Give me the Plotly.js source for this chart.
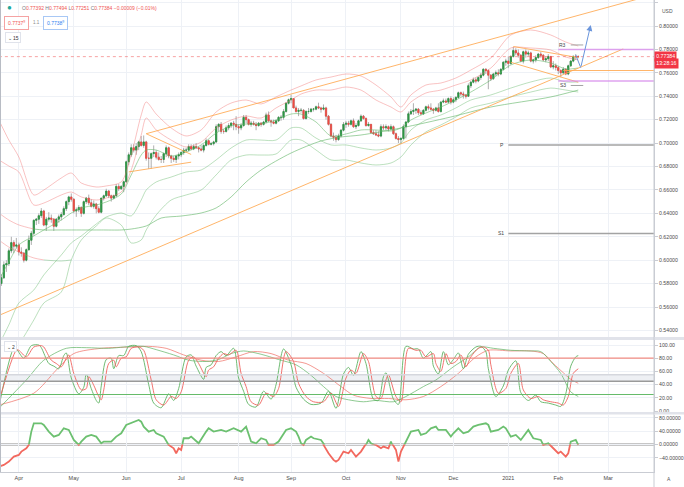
<!DOCTYPE html>
<html>
<head>
<meta charset="utf-8">
<script src="https://cdn.plot.ly/plotly-3.0.1.min.js"></script>
<style>
html,body{margin:0;padding:0;background:#ffffff;overflow:hidden;}
#chart{width:684px;height:487px;}
</style>
</head>
<body>
<div id="chart"></div>
<script>
// ================= DATA =================
const firstDate = '2020-03-20';
const holidays = ['2020-12-25', '2021-01-01'];

const opens = [
.5760,.5800,.5850,.5960,.5970,.6080,.6150,.6120,
.6130,.6070,.6060,.6000,.6090,.6170,.6230,.6340,.6350,.6380,.6420,.6300,.6350,.6360,.6350,.6290,.6350,.6370,.6390,.6440,.6500,.6540,
.6520,.6420,.6430,.6450,.6400,.6500,.6530,.6490,.6460,.6480,.6440,.6410,.6530,.6550,.6590,.6550,.6530,.6550,.6630,.6610,.6630,
.6670,.6840,.6900,.6960,.6940,.6970,.7010,.6980,.7010,.6870,.6870,.6910,.6920,.6880,.6860,.6860,.6910,.6960,.6890,.6870,.6860,.6890,
.6900,.6920,.6940,.6940,.6970,.6950,.6970,.6960,.6950,.6940,.6980,.7020,.6990,.6995,.7010,.7140,.7160,.7100,.7100,.7130,.7150,.7170,.7160,
.7140,.7130,.7150,.7220,.7200,.7160,.7170,.7160,.7150,.7170,.7160,.7180,.7240,.7190,.7180,.7170,.7190,.7220,.7220,.7270,.7340,
.7370,.7380,.7300,.7270,.7280,.7280,.7210,.7270,.7270,.7290,.7290,.7310,.7300,.7290,.7300,.7230,.7160,.7060,.7050,.7030,.7060,.7110,
.7160,.7170,.7160,.7190,.7140,.7150,.7190,.7230,.7210,.7150,.7160,.7090,.7080,.7070,.7060,.7140,.7130,.7140,.7120,.7140,.7080,.7040,
.7030,.7040,.7140,.7180,.7250,.7270,.7280,.7290,.7260,.7250,.7280,.7310,.7300,.7290,.7280,.7300,.7270,.7350,.7360,.7350,.7380,
.7350,.7370,.7390,.7430,.7420,.7410,.7400,.7490,.7520,.7540,.7530,.7560,.7580,.7630,.7620,.7580,.7550,.7590,.7600,.7590,.7630,.7690,
.7700,.7680,.7740,.7790,.7770,.7750,.7700,.7780,.7760,.7770,.7700,.7710,.7730,.7760,.7750,.7710,.7720,.7740,.7650,.7660,
.7645,.7620,.7600,.7630,.7590,.7660,.7700,.7740,.77392];

const highs = [
.5840,.5880,.5990,.6000,.6100,.6200,.6170,.6190,
.6150,.6110,.6070,.6100,.6210,.6250,.6350,.6360,.6400,.6445,.6430,.6370,.6410,.6390,.6360,.6360,.6390,.6410,.6460,.6510,.6550,.6570,
.6530,.6450,.6470,.6460,.6510,.6540,.6560,.6520,.6510,.6490,.6460,.6530,.6560,.6610,.6600,.6560,.6560,.6650,.6650,.6640,.6680,
.6850,.6920,.6990,.6990,.7000,.7020,.7060,.7065,.7020,.6920,.6920,.6980,.6940,.6920,.6890,.6920,.6980,.6970,.6900,.6890,.6900,.6920,
.6930,.6960,.6960,.6990,.6990,.6990,.7000,.6970,.6980,.6990,.7040,.7030,.7010,.7020,.7160,.7170,.7180,.7120,.7150,.7170,.7180,.7190,.7230,
.7160,.7170,.7240,.7240,.7210,.7190,.7190,.7180,.7180,.7180,.7190,.7260,.7270,.7200,.7200,.7200,.7230,.7240,.7290,.7350,.7380,
.7413,.7380,.7320,.7300,.7300,.7290,.7280,.7300,.7300,.7300,.7320,.7345,.7310,.7330,.7310,.7240,.7170,.7090,.7070,.7080,.7120,.7180,
.7190,.7190,.7200,.7210,.7170,.7200,.7245,.7240,.7220,.7180,.7160,.7110,.7110,.7100,.7160,.7160,.7160,.7150,.7160,.7150,.7090,.7060,
.7050,.7160,.7190,.7270,.7290,.7340,.7300,.7300,.7280,.7290,.7320,.7330,.7340,.7300,.7310,.7340,.7360,.7380,.7380,.7390,.7400,
.7390,.7400,.7440,.7440,.7440,.7420,.7510,.7530,.7560,.7560,.7570,.7600,.7640,.7640,.7630,.7590,.7600,.7620,.7630,.7640,.7700,.7720,
.7740,.7750,.7820,.7810,.7800,.7760,.7790,.7800,.7790,.7780,.7720,.7750,.7770,.7780,.7760,.7740,.7760,.7740,.7700,.7680,
.7660,.7630,.7650,.7640,.7670,.7710,.7750,.7760,.77494];

const lows = [
.5720,.5780,.5840,.5900,.5950,.6060,.6060,.6100,
.6040,.6030,.5980,.5990,.6080,.6130,.6210,.6300,.6310,.6360,.6290,.6250,.6330,.6320,.6250,.6280,.6320,.6340,.6380,.6420,.6470,.6500,
.6400,.6370,.6410,.6370,.6390,.6480,.6470,.6450,.6440,.6400,.6400,.6400,.6510,.6540,.6530,.6500,.6520,.6540,.6590,.6600,.6580,
.6660,.6810,.6880,.6920,.6900,.6940,.6970,.6960,.6850,.6780,.6780,.6880,.6860,.6850,.6830,.6830,.6880,.6870,.6830,.6840,.6830,.6860,
.6880,.6900,.6920,.6930,.6940,.6940,.6950,.6920,.6930,.6920,.6970,.6980,.6980,.6980,.7000,.7100,.7080,.7080,.7090,.7110,.7130,.7110,.7110,
.7080,.7110,.7140,.7170,.7150,.7140,.7150,.7110,.7140,.7140,.7150,.7170,.7180,.7140,.7160,.7160,.7180,.7190,.7200,.7260,.7330,
.7340,.7300,.7260,.7230,.7260,.7200,.7200,.7250,.7260,.7270,.7280,.7290,.7260,.7280,.7200,.7150,.7050,.7020,.7006,.7020,.7050,.7100,
.7130,.7140,.7150,.7130,.7120,.7140,.7180,.7200,.7140,.7140,.7080,.7070,.7060,.7050,.7050,.7110,.7110,.7100,.7110,.7070,.7030,.7000,
.6991,.7030,.7040,.7170,.7240,.7240,.7250,.7240,.7240,.7240,.7270,.7280,.7280,.7250,.7270,.7260,.7260,.7340,.7340,.7340,.7330,
.7340,.7350,.7380,.7400,.7380,.7380,.7400,.7470,.7510,.7510,.7520,.7540,.7570,.7590,.7460,.7530,.7540,.7570,.7570,.7580,.7620,.7660,
.7640,.7670,.7730,.7750,.7730,.7690,.7680,.7730,.7740,.7690,.7680,.7690,.7720,.7730,.7700,.7690,.7700,.7640,.7630,.7620,
.7590,.7563,.7590,.7580,.7580,.7650,.7690,.7710,.77251];

const closes = [
.5810,.5850,.5960,.5970,.6080,.6150,.6120,.6130,
.6070,.6060,.6000,.6090,.6170,.6230,.6340,.6350,.6380,.6420,.6300,.6350,.6360,.6350,.6290,.6350,.6370,.6390,.6440,.6500,.6540,.6520,
.6420,.6430,.6450,.6400,.6500,.6530,.6490,.6460,.6480,.6440,.6410,.6530,.6550,.6590,.6550,.6530,.6550,.6630,.6610,.6630,.6670,
.6840,.6900,.6960,.6940,.6970,.7010,.6980,.7010,.6870,.6870,.6910,.6920,.6880,.6860,.6860,.6910,.6960,.6890,.6870,.6860,.6890,.6900,
.6920,.6940,.6940,.6970,.6950,.6970,.6960,.6950,.6940,.6980,.7020,.6990,.6995,.7010,.7140,.7160,.7100,.7100,.7130,.7150,.7170,.7160,.7140,
.7130,.7150,.7220,.7200,.7160,.7170,.7160,.7150,.7170,.7160,.7180,.7240,.7190,.7180,.7170,.7190,.7220,.7220,.7270,.7340,.7370,
.7380,.7300,.7270,.7280,.7280,.7210,.7270,.7270,.7290,.7290,.7310,.7300,.7290,.7300,.7230,.7160,.7060,.7050,.7030,.7060,.7110,.7160,
.7170,.7160,.7190,.7140,.7150,.7190,.7230,.7210,.7150,.7160,.7090,.7080,.7070,.7060,.7140,.7130,.7140,.7120,.7140,.7080,.7040,.7030,
.7040,.7140,.7180,.7250,.7270,.7280,.7290,.7260,.7250,.7280,.7310,.7300,.7290,.7280,.7300,.7270,.7350,.7360,.7350,.7380,.7350,
.7370,.7390,.7430,.7420,.7410,.7400,.7490,.7520,.7540,.7530,.7560,.7580,.7630,.7620,.7580,.7550,.7590,.7600,.7590,.7630,.7690,.7700,
.7680,.7740,.7790,.7770,.7750,.7700,.7780,.7760,.7770,.7700,.7710,.7730,.7760,.7750,.7710,.7720,.7740,.7650,.7660,.7645,
.7620,.7600,.7630,.7590,.7660,.7700,.7740,.7739,.77384];

// month ticks
const monthTickDates = ['2020-04-01','2020-05-01','2020-06-01','2020-07-01','2020-08-03','2020-09-01','2020-10-01','2020-11-02','2020-12-01','2021-01-04','2021-02-01','2021-03-01'];
const monthTickLabels = ['Apr','May','Jun','Jul','Aug','Sep','Oct','Nov','Dec','2021','Feb','Mar'];

// band / moving-average lines (bar index, price)
const bandIdx = [0,4,8,14,18,25,29,33,39,43,49,53,57,59,63,69,75,81,87,93,99,105,111,117,121,127,133,139,145,151,157,161,165,171,177,183,189,197,205,213,221,227,232];
const bandUpperOuter = [0.7197,0.7026,0.6881,0.6557,0.6599,0.6702,0.6744,0.6659,0.6625,0.6634,0.6668,0.6900,0.7240,0.7351,0.7248,0.7129,0.7061,0.7112,0.7266,0.7342,0.7368,0.7334,0.7394,0.7453,0.7488,0.7539,0.7564,0.7590,0.7573,0.7496,0.7394,0.7308,0.7411,0.7496,0.7513,0.7556,0.7624,0.7727,0.7923,0.7966,0.7923,0.7863,0.7829];
const bandUpperInner = [0.6856,0.6804,0.6753,0.6471,0.6488,0.6557,0.6582,0.6540,0.6514,0.6531,0.6582,0.6770,0.7069,0.7214,0.7112,0.7026,0.6967,0.7009,0.7129,0.7197,0.7231,0.7214,0.7300,0.7368,0.7419,0.7453,0.7453,0.7479,0.7453,0.7368,0.7308,0.7266,0.7351,0.7428,0.7453,0.7496,0.7539,0.7641,0.7812,0.7812,0.7795,0.7735,0.7710];
const bandBasis = [0.5831,0.5985,0.6130,0.6207,0.6258,0.6343,0.6403,0.6446,0.6471,0.6497,0.6565,0.6728,0.6898,0.6941,0.6941,0.6890,0.6924,0.6984,0.7086,0.7146,0.7163,0.7163,0.7197,0.7248,0.7248,0.7180,0.7061,0.7078,0.7112,0.7112,0.7103,0.7129,0.7197,0.7257,0.7308,0.7368,0.7436,0.7539,0.7667,0.7710,0.7684,0.7633,0.7641];
const bandLowerInner = [0.5276,0.5447,0.5634,0.5745,0.5874,0.6044,0.6147,0.6207,0.6309,0.6369,0.6403,0.6378,0.6514,0.6599,0.6668,0.6710,0.6753,0.6770,0.6856,0.6958,0.7026,0.7026,0.7026,0.7129,0.7129,0.7043,0.6984,0.6984,0.6958,0.6941,0.6958,0.7001,0.7112,0.7197,0.7240,0.7300,0.7368,0.7411,0.7470,0.7522,0.7556,0.7522,0.7522];
const bandLowerOuter = [0.4977,0.5147,0.5276,0.5489,0.5634,0.5728,0.6002,0.6172,0.6292,0.6360,0.6300,0.6147,0.6172,0.6258,0.6386,0.6514,0.6557,0.6599,0.6728,0.6856,0.6898,0.6898,0.6907,0.7026,0.7026,0.6941,0.6856,0.6856,0.6830,0.6813,0.6830,0.6881,0.6984,0.7095,0.7155,0.7223,0.7300,0.7342,0.7394,0.7436,0.7470,0.7453,0.7436];
const longMaFallIdx = [0,4,8,14];
const longMaFallVal = [0.6403,0.6343,0.6301,0.6266];
const longMaIdx = [14,18,25,33,41,49,53,59,65,73,81,87,93,99,105,117,129,137,145,161,181,197,221,232];
const longMaVal = [0.6266,0.6258,0.6258,0.6258,0.6258,0.6258,0.6266,0.6292,0.6360,0.6377,0.6403,0.6446,0.6540,0.6668,0.6770,0.6915,0.7018,0.7052,0.7069,0.7129,0.7223,0.7308,0.7394,0.7453];
const midMaFallIdx = [0,4,8,14,18];
const midMaFallVal = [0.6172,0.6112,0.6070,0.6019,0.6002];
const midMaIdx = [18,25,29];
const midMaVal = [0.6002,0.5993,0.6002];

// drawings
const chanUpperIdx = [59, 263];   const chanUpperVal = [0.7080, 0.8272];
const chanLowerIdx = [0, 250];    const chanLowerVal = [0.5528, 0.7804];
const triUpperIdx = [59, 77];     const triUpperVal = [0.7080, 0.6903];
const triLowerIdx = [52, 77];     const triLowerVal = [0.6754, 0.6837];
const flagUpperIdx = [206, 232];  const flagUpperVal = [0.7825, 0.7730];
const flagLowerIdx = [205, 232];  const flagLowerVal = [0.7690, 0.7520];
const orangeLevelIdx = [226, 263]; const orangeLevelVal = [0.7620, 0.7620];
const purpleLevelIdx = [224, 263]; const purpleLevels = [0.7800, 0.7530];
const pivotIdx = [204, 263];      const pivotP = 0.6984; const pivotS1 = 0.6228;
const weekPivotIdx = [229, 234];  const weekR3 = 0.7838; const weekS3 = 0.7492;
const lastPrice = 0.77384;
const projIdx = [231, 233, 237];  const projVal = [0.7753, 0.7644, 0.8009];

// stochastic (bar index, value)
const stochFastKIdx = [0,6,7,10,13,16,17,20,22,24,26,27,29,32,34,35,37,39,40,41,43,45,46,48,50,52,55,57,60,62,65,68,70,72,75,77,79,82,83,85,87,89,91,94,96,98,100,103,106,109,111,114,117,119,122,125,129,132,135,138,140,142,145,147,150,152,154,155,158,160,163,166,168,170,173,174,176,178,180,182,184,186,188,191,193,195,196,199,202,204,207,209,212,215,217,220,223,225,227,229,231,232];
const stochFastKVal = [6,95,94,80,99,100,96,72,68,64,84,88,50,26,36,56,34,16,12,38,78,80,64,84,84,98,99,90,40,12,5,26,16,34,82,85,68,48,66,70,84,90,84,95,50,30,10,6,30,18,40,94,70,36,18,10,12,30,4,56,66,54,90,72,18,16,52,58,18,10,98,94,94,80,90,68,56,90,70,78,88,64,86,97,98,90,64,22,38,62,76,28,16,24,14,12,9,7,26,68,82,84];
const stochFastDIdx = [0,7,8,11,14,17,18,21,23,25,27,28,30,33,35,36,38,40,41,42,44,46,47,49,51,53,56,58,61,63,66,69,71,73,76,78,80,83,84,86,88,90,92,95,97,99,101,104,107,110,112,115,118,120,123,126,130,133,136,139,141,143,146,148,151,153,155,156,159,161,164,167,169,171,174,175,177,179,181,183,185,187,189,192,194,196,197,200,203,205,208,210,213,216,218,221,224,226,228,230,232];
const stochFastDVal = [14,92,92,82,97,99,97,77,72,67,80,85,57,32,34,52,39,22,17,32,72,77,67,80,82,95,97,92,47,17,9,22,19,29,77,82,72,52,62,67,80,87,85,92,57,37,14,9,27,22,34,90,75,42,22,14,14,27,7,50,62,57,87,75,22,19,47,55,22,14,95,92,92,82,87,72,60,87,72,75,85,67,82,95,97,92,70,27,34,57,72,32,19,22,17,14,12,9,22,57,64];
const stochSlowKIdx = [0,11,18,27,35,44,53,58,63,70,76,83,88,93,98,105,112,119,125,130,135,140,146,151,158,163,170,175,182,188,193,198,205,212,217,221,225,229,232];
const stochSlowKVal = [4,47,77,95,96,95,98,98,93,85,77,75,78,87,91,86,78,70,54,37,22,17,14,16,14,22,37,47,67,82,97,95,92,91,90,75,57,29,22];
const stochSlowDIdx = [0,14,23,30,41,53,60,67,74,81,88,95,102,109,116,123,130,137,142,149,156,163,170,177,184,191,196,205,213,218,222,226,229,232];
const stochSlowDVal = [9,27,62,87,95,97,98,95,85,77,75,82,90,87,77,72,57,37,24,19,19,17,22,37,57,82,92,91,91,87,72,58,48,42];
const stochUpperLevel = 80;
const stochLowerLevel = 25;
const stochMidBand = [45, 55];
const stochTicks = [0,20,40,60,80,100];

// oscillator (bar index, value)
const oscIdx = [0,2,4,6,8,9,11,12,13,14,17,18,20,22,24,26,28,30,32,33,35,37,39,41,42,45,47,49,51,54,56,57,58,60,62,63,66,68,70,71,72,73,74,76,77,80,83,84,86,89,91,94,97,99,101,103,105,107,108,110,112,115,117,119,120,121,122,123,125,126,129,130,132,134,135,136,138,140,141,143,145,147,148,149,151,153,154,156,157,159,160,161,163,165,168,169,171,173,175,176,179,181,182,184,186,188,190,192,195,196,197,200,202,203,205,207,209,210,212,214,217,218,220,222,224,225,227,228,229,231,232];
const oscVal = [-66,-61,-51,-36,-31,-21,-11,-1,39,64,64,59,39,24,29,49,44,14,-1,9,24,29,24,4,9,9,24,34,59,69,74,69,54,39,44,34,24,-1,-11,-26,-11,-16,19,19,24,4,39,49,39,44,39,49,39,54,9,4,19,14,-1,-1,9,44,49,39,24,4,-1,14,24,19,14,-1,-26,-46,-51,-46,-21,-26,-16,-36,-21,-1,14,4,-1,-11,-6,-11,9,-16,-51,-21,9,39,44,29,34,49,54,44,44,24,34,49,34,39,54,59,64,59,39,44,54,49,24,29,14,24,44,19,14,-1,4,-11,-26,-21,-36,-26,9,14,-1];
const oscTicks = [-40,0,40,80];

// header texts
const headerLabels = ['O','H','L','C'];
const headerValues = ['0.77392','0.77494','0.77251','0.77384'];
const headerChange = '\u22120.00009 (\u22120.01%)';

// ================= BUILD =================
function buildDates(n) {
  const out = [];
  const d = new Date(firstDate + 'T00:00:00Z');
  while (out.length < n) {
    const dow = d.getUTCDay();
    const s = d.toISOString().slice(0, 10);
    if (dow !== 0 && dow !== 6 && holidays.indexOf(s) < 0) out.push(s + ' 12:00');
    d.setUTCDate(d.getUTCDate() + 1);
  }
  return out;
}
const dates = buildDates(275);
const N = closes.length;
const X = idx => idx.map(i => dates[i]);
const W = 654, H = 472;
const px = x => x / W;
const py = y => (H - y) / H;

const traces = [];
function addLine(idx, vals, color, width, yax, shape, dash) {
  const ln = {color: color, width: width, shape: shape || 'linear', dash: dash || 'solid'};
  if (shape === 'spline') ln.smoothing = 0.8;
  traces.push({type: 'scatter', mode: 'lines', x: X(idx), y: vals, xaxis: 'x', yaxis: yax, line: ln, hoverinfo: 'skip'});
}

const RED_BAND = 'rgba(240,110,110,0.42)';
const GREEN_BAND = 'rgba(95,180,100,0.42)';
const ORANGE = 'rgba(255,168,80,0.85)';

// main panel indicator lines
addLine(bandIdx, bandUpperOuter, RED_BAND, 1, 'y', 'spline');
addLine(bandIdx, bandUpperInner, RED_BAND, 1, 'y', 'spline');
addLine(bandIdx, bandBasis, 'rgba(95,180,100,0.55)', 1, 'y', 'spline');
addLine(bandIdx, bandLowerInner, GREEN_BAND, 1, 'y', 'spline');
addLine(bandIdx, bandLowerOuter, GREEN_BAND, 1, 'y', 'spline');
addLine(longMaFallIdx, longMaFallVal, RED_BAND, 1, 'y', 'spline');
addLine(longMaIdx, longMaVal, 'rgba(95,180,100,0.6)', 1, 'y', 'spline');
addLine(midMaFallIdx, midMaFallVal, RED_BAND, 1, 'y', 'spline');
addLine(midMaIdx, midMaVal, GREEN_BAND, 1, 'y', 'spline');

// drawings
addLine(chanUpperIdx, chanUpperVal, ORANGE, 1, 'y');
addLine(chanLowerIdx, chanLowerVal, ORANGE, 1, 'y');
addLine(triUpperIdx, triUpperVal, ORANGE, 1, 'y');
addLine(triLowerIdx, triLowerVal, ORANGE, 1, 'y');
addLine(flagUpperIdx, flagUpperVal, ORANGE, 1, 'y');
addLine(flagLowerIdx, flagLowerVal, ORANGE, 1, 'y');
addLine(orangeLevelIdx, orangeLevelVal, ORANGE, 1.2, 'y');
purpleLevels.forEach(v => addLine(purpleLevelIdx, [v, v], 'rgba(215,140,235,0.8)', 1.5, 'y'));
addLine(pivotIdx, [pivotP, pivotP], '#a3a3a3', 1.5, 'y');
addLine(pivotIdx, [pivotS1, pivotS1], '#a3a3a3', 1.5, 'y');
addLine(weekPivotIdx, [weekR3, weekR3], '#a3a3a3', 1, 'y');
addLine(weekPivotIdx, [weekS3, weekS3], '#a3a3a3', 1, 'y');
addLine([0, 263], [lastPrice, lastPrice], 'rgba(240,90,90,0.55)', 1, 'y', 'linear', 'dot');

// candles: wick layer then body layer
const bodyTop = opens.map((o, i) => Math.max(o, closes[i]));
const bodyBot = opens.map((o, i) => Math.min(o, closes[i]));
traces.push({type: 'candlestick', x: dates.slice(0, N), open: opens, high: highs, low: lows, close: closes,
  xaxis: 'x', yaxis: 'y', whiskerwidth: 0, hoverinfo: 'none',
  increasing: {line: {color: '#999999', width: 0.8}, fillcolor: '#999999'},
  decreasing: {line: {color: '#999999', width: 0.8}, fillcolor: '#999999'}});
traces.push({type: 'candlestick', x: dates.slice(0, N), open: opens, high: bodyTop, low: bodyBot, close: closes,
  xaxis: 'x', yaxis: 'y', whiskerwidth: 0, hoverinfo: 'none',
  increasing: {line: {color: '#2b9643', width: 0.7}, fillcolor: '#2b9643'},
  decreasing: {line: {color: '#ee4a42', width: 0.7}, fillcolor: '#ee4a42'}});

// projection path
addLine(projIdx.slice(0, 2), projVal.slice(0, 2), '#6b96dc', 1, 'y');

// stochastic
addLine(stochSlowDIdx, stochSlowDVal, 'rgba(240,110,100,0.7)', 1, 'y2', 'spline');
addLine(stochSlowKIdx, stochSlowKVal, 'rgba(95,180,100,0.7)', 1, 'y2', 'spline');
addLine(stochFastKIdx, stochFastKVal, 'rgba(95,180,100,0.9)', 1, 'y2', 'spline');
addLine(stochFastDIdx, stochFastDVal, 'rgba(240,100,95,0.9)', 1, 'y2', 'spline');

// oscillator: green half and red half (clipped by their own sub-areas)
addLine(oscIdx, oscVal, '#6cc070', 1.8, 'y4');
addLine(oscIdx, oscVal, '#f2695f', 1.8, 'y5');

// ================= LAYOUT =================
const axisFont = {size: 5.2, color: '#4a4a4a'};
const GRID = '#eef1f6';
const yCommon = {side: 'right', anchor: 'x', showgrid: true, gridcolor: GRID, gridwidth: 1, zeroline: false,
  showline: true, linecolor: '#c9ccd3', linewidth: 1, ticks: 'outside', ticklen: 3, tickcolor: '#c9ccd3',
  tickfont: axisFont, fixedrange: true};

const shapes = [
  {type: 'rect', xref: 'paper', x0: 0, x1: 1, yref: 'y2', y0: stochMidBand[0], y1: stochMidBand[1], fillcolor: '#eef0f4', line: {width: 0}, layer: 'below'},
  {type: 'line', xref: 'paper', x0: 0, x1: 1, yref: 'y2', y0: stochMidBand[1], y1: stochMidBand[1], line: {color: '#d5d7dd', width: 1.5}},
  {type: 'line', xref: 'paper', x0: 0, x1: 1, yref: 'y2', y0: stochMidBand[0], y1: stochMidBand[0], line: {color: '#9a9a9a', width: 1.5}},
  {type: 'line', xref: 'paper', x0: 0, x1: 1, yref: 'y2', y0: stochUpperLevel, y1: stochUpperLevel, line: {color: '#f28b82', width: 1.2}},
  {type: 'line', xref: 'paper', x0: 0, x1: 1, yref: 'y2', y0: stochLowerLevel, y1: stochLowerLevel, line: {color: '#66bb6a', width: 1.2}},
  {type: 'line', xref: 'paper', x0: 0, x1: 1, yref: 'y3', y0: 0, y1: 0, line: {color: '#b3b3b3', width: 2.5}, layer: 'below'},
  {type: 'rect', xref: 'paper', x0: -0.01, x1: 1.06, yref: 'paper', y0: py(340), y1: py(337), fillcolor: '#e1e3ea', line: {width: 0}},
  {type: 'rect', xref: 'paper', x0: -0.01, x1: 1.06, yref: 'paper', y0: py(414.5), y1: py(412), fillcolor: '#e1e3ea', line: {width: 0}},
  {type: 'line', xref: 'paper', x0: 1, x1: 1, yref: 'paper', y0: py(487), y1: 1, line: {color: '#c9ccd3', width: 1}},
  {type: 'line', xref: 'paper', x0: px(0.5), x1: px(0.5), yref: 'paper', y0: py(472), y1: 1, line: {color: '#b8bcc4', width: 1}}
];

const red = '#ef5350';
let hdr = '';
headerLabels.forEach((l, i) => { hdr += '<span style="color:#787b86">' + l + '</span>' + headerValues[i] + ' '; });
hdr += headerChange;

function pa(x, y, text, font, extra) {
  return Object.assign({xref: 'paper', yref: 'paper', x: px(x), y: py(y), xanchor: 'center', yanchor: 'middle',
    text: text, showarrow: false, font: font}, extra || {});
}

const annotations = [
  pa(9.5, 8, '\u25CF', {size: 8, color: '#1fa89a'}),
  pa(20, 8.3, hdr, {size: 5, color: red}, {xanchor: 'left'}),
  pa(16.5, 22.5, '0.7737<sup>9</sup>', {size: 5, color: red}, {bordercolor: '#f5a3a3', borderwidth: 1, borderpad: 3, bgcolor: '#ffffff'}),
  pa(36, 22.5, '1.1', {size: 4.5, color: '#888'}),
  pa(55.5, 22.5, '0.7738<sup>9</sup>', {size: 5, color: '#2f7ff0'}, {bordercolor: '#a8c8f5', borderwidth: 1, borderpad: 3, bgcolor: '#ffffff'}),
  pa(12.5, 37, '\u2304 15', {size: 5, color: '#333'}, {bordercolor: '#e0e3eb', borderwidth: 1, borderpad: 1.5, bgcolor: '#ffffff'}),
  pa(10.5, 346, '\u2304 2', {size: 5, color: '#333'}, {bordercolor: '#e0e3eb', borderwidth: 1, borderpad: 1.5, bgcolor: '#ffffff'}),
  pa(667, 11, 'USD', {size: 5, color: '#555'}),
  {xref: 'paper', yref: 'y', x: 1, y: lastPrice, xanchor: 'left', yanchor: 'middle', text: headerValues[3], showarrow: false,
   font: {size: 5.2, color: '#ffffff'}, bgcolor: '#f23645', borderpad: 1.3},
  pa(654, 63.6, '13:28:16', {size: 5.2, color: '#ffffff'}, {xanchor: 'left', bgcolor: '#f23645', borderpad: 1.3}),
  pa(669, 479.5, 'A', {size: 5, color: '#555'}),
  {xref: 'x', yref: 'y', x: dates[203], y: pivotP, xanchor: 'right', yanchor: 'middle', text: 'P', showarrow: false, font: {size: 5, color: '#444'}},
  {xref: 'x', yref: 'y', x: dates[203], y: pivotS1, xanchor: 'right', yanchor: 'middle', text: 'S1', showarrow: false, font: {size: 5, color: '#444'}},
  {xref: 'x', yref: 'y', x: dates[228], y: weekR3, xanchor: 'right', yanchor: 'middle', text: 'R3', showarrow: false, font: {size: 5, color: '#444'}},
  {xref: 'x', yref: 'y', x: dates[228], y: weekS3, xanchor: 'right', yanchor: 'middle', text: 'S3', showarrow: false, font: {size: 5, color: '#444'}},
  {xref: 'x', yref: 'y', x: dates[projIdx[2]], y: projVal[2], axref: 'x', ayref: 'y', ax: dates[projIdx[1]], ay: projVal[1],
   text: '', showarrow: true, arrowhead: 2, arrowsize: 1.2, arrowwidth: 1, arrowcolor: '#6b96dc'}
];

const layout = {
  width: 684, height: 487,
  margin: {l: 0, r: 30, t: 0, b: 15},
  paper_bgcolor: '#ffffff', plot_bgcolor: 'rgba(0,0,0,0)',
  showlegend: false, hovermode: false,
  font: {family: 'Liberation Sans, Arial, sans-serif', size: 5.5, color: '#4a4a4a'},
  xaxis: {type: 'date', anchor: 'y3',
    range: ['2020-03-20 23:00', '2021-03-25 20:00'],
    rangebreaks: [{bounds: ['sat', 'mon']}, {values: holidays}],
    tickvals: monthTickDates.map(d => d + ' 12:00'), ticktext: monthTickLabels,
    showgrid: true, gridcolor: GRID, gridwidth: 1, zeroline: false,
    showline: true, linecolor: '#c9ccd3', ticks: '', tickfont: {size: 5.5, color: '#4a4a4a'},
    rangeslider: {visible: false}, fixedrange: true},
  yaxis: Object.assign({}, yCommon, {domain: [0.28602, 1], range: [0.5344, 0.8222], tick0: 0.54, dtick: 0.02, tickformat: '.5f'}),
  yaxis2: Object.assign({}, yCommon, {domain: [0.12712, 0.27966], range: [-1.5, 107.6], tickvals: stochTicks, tickformat: '.2f'}),
  yaxis3: Object.assign({}, yCommon, {domain: [0, 0.12182], range: [-82.3, 90.4], tickvals: oscTicks, tickformat: '.5f'}),
  yaxis4: {domain: [0.05805, 0.12182], range: [0, 90.4], visible: false, anchor: 'x', fixedrange: true},
  yaxis5: {domain: [0, 0.05805], range: [-82.3, 0], visible: false, anchor: 'x', fixedrange: true},
  shapes: shapes,
  annotations: annotations
};

Plotly.newPlot('chart', traces, layout, {staticPlot: true, displayModeBar: false});
</script>
</body>
</html>
